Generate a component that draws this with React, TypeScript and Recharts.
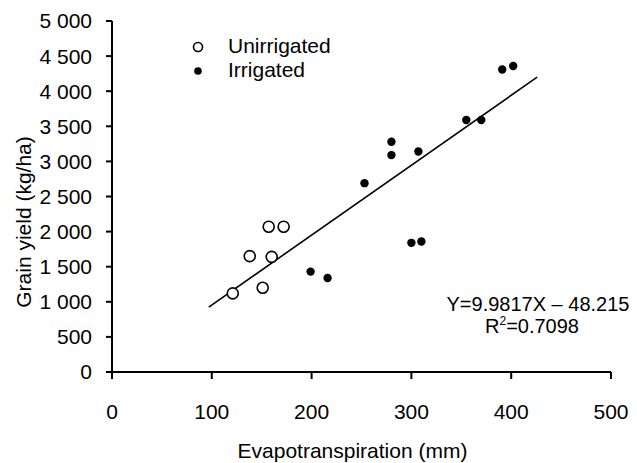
import React from 'react';
import { ScatterChart, Scatter, XAxis, YAxis, Customized } from 'recharts';

const unirrigatedET = [121, 138, 151, 157, 160, 172];
const unirrigatedYield = [1120, 1650, 1200, 2070, 1640, 2070];
const irrigatedET = [199, 216, 253, 280, 280, 300, 307, 310, 355, 370, 391, 402];
const irrigatedYield = [1430, 1340, 2690, 3280, 3090, 1840, 3140, 1860, 3590, 3590, 4310, 4360];
const fitET = [97, 426];
const fitYield = [925, 4200];

const xTicks = [0, 100, 200, 300, 400, 500];
const yTicks = [0, 500, 1000, 1500, 2000, 2500, 3000, 3500, 4000, 4500, 5000];
const yTickLabels = ['0', '500', '1 000', '1 500', '2 000', '2 500', '3 000', '3 500', '4 000', '4 500', '5 000'];
const legendLabels = ['Unirrigated', 'Irrigated'];

const unirrigated = unirrigatedET.map((x, i) => ({ x, y: unirrigatedYield[i] }));
const irrigated = irrigatedET.map((x, i) => ({ x, y: irrigatedYield[i] }));
const fit = fitET.map((x, i) => ({ x, y: fitYield[i] }));

const FONT = '"Liberation Sans", Arial, sans-serif';
const FS = 21;

const OpenCircle = (p: any) => (
  <circle cx={p.cx} cy={p.cy} r={5.5} fill="#fff" stroke="#000" strokeWidth={1.6} />
);
const Dot = (p: any) => <circle cx={p.cx} cy={p.cy} r={4.2} fill="#000" />;

const LegendAndEquation = () => (
  <g fontFamily={FONT} fontSize={FS} fill="#000">
    <circle cx={198} cy={47} r={4.5} fill="#fff" stroke="#000" strokeWidth={1.6} />
    <text x={228} y={53}>{legendLabels[0]}</text>
    <circle cx={198} cy={71} r={3.8} fill="#000" />
    <text x={228} y={77}>{legendLabels[1]}</text>
    <text x={538} y={311} fontSize={20} textAnchor="middle">Y=9.9817X – 48.215</text>
    <text x={532} y={333} fontSize={20} textAnchor="middle">
      R<tspan fontSize={12} dy={-8}>2</tspan>
      <tspan dy={8}>=0.7098</tspan>
    </text>
  </g>
);

export default function App() {
  return (
    <div style={{ position: 'absolute', left: 0, top: 0, background: '#fff' }}>
      <ScatterChart
        width={637}
        height={463}
        margin={{ top: 21, right: 26, bottom: 0, left: 0 }}
      >
        <XAxis
          type="number"
          dataKey="x"
          domain={[0, 500]}
          ticks={xTicks}
          interval={0}
          height={91}
          stroke="#000"
          strokeWidth={2}
          tickSize={7}
          tickMargin={25}
          tick={{ fill: '#000', fontSize: FS, fontFamily: FONT }}
          label={{
            content: (props: any) => {
              const vb = props.viewBox;
              return (
                <text
                  x={vb.x + vb.width / 2 - 9}
                  y={458}
                  textAnchor="middle"
                  fontSize={FS}
                  fontFamily={FONT}
                  fill="#000"
                >
                  Evapotranspiration (mm)
                </text>
              );
            },
          }}
        />
        <YAxis
          type="number"
          dataKey="y"
          domain={[0, 5000]}
          ticks={yTicks}
          interval={0}
          width={112}
          stroke="#000"
          strokeWidth={2}
          tickSize={6}
          tickMargin={14}
          tickFormatter={(v: number) => yTickLabels[yTicks.indexOf(v)]}
          tick={{ fill: '#000', fontSize: FS, fontFamily: FONT }}
          label={{
            content: () => (
              <text
                x={31}
                y={222}
                transform="rotate(-90 31 222)"
                textAnchor="middle"
                fontSize={FS}
                fontFamily={FONT}
                fill="#000"
              >
                Grain yield (kg/ha)
              </text>
            ),
          }}
        />
        <Scatter
          name="fit"
          data={fit}
          line={{ stroke: '#000', strokeWidth: 1.6 }}
          shape={() => null}
          isAnimationActive={false}
          legendType="none"
        />
        <Scatter name="Unirrigated" data={unirrigated} shape={OpenCircle} isAnimationActive={false} />
        <Scatter name="Irrigated" data={irrigated} shape={Dot} isAnimationActive={false} />
        <Customized component={LegendAndEquation} />
      </ScatterChart>
    </div>
  );
}
